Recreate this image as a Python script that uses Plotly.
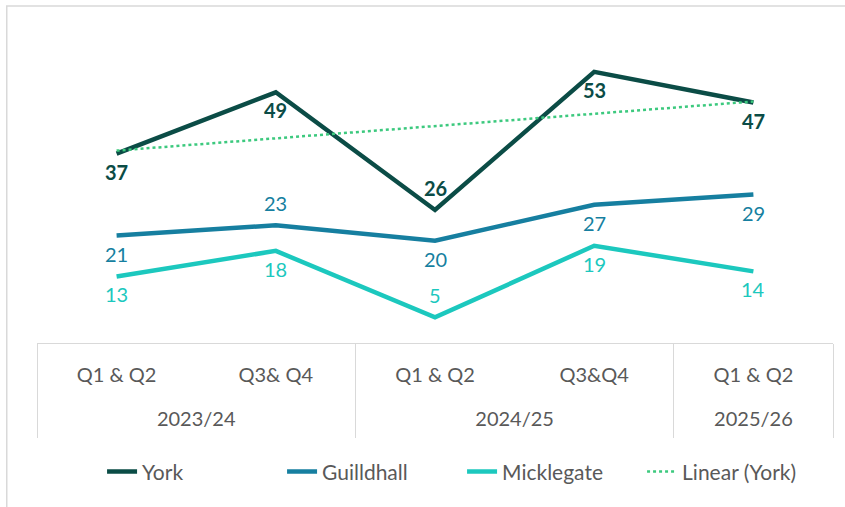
import numpy as np
import plotly.graph_objects as go

# ── Data ──────────────────────────────────────────────────────────────────────
quarters    = ["Q1 & Q2", "Q3& Q4", "Q1 & Q2", "Q3&Q4", "Q1 & Q2"]
years       = ["2023/24", "2024/25", "2025/26"]
year_center = [0.5, 2.5, 4]           # middle of each year's quarter group
year_bounds = [-0.5, 1.5, 3.5, 4.5]   # group dividers

york       = [37, 49, 26, 53, 47]
guildhall  = [21, 23, 20, 27, 29]
micklegate = [13, 18, 5, 19, 14]

# label placement per point (+1 above, -1 below), like the Excel data labels
york_lbl  = [-1, -1, 1, -1, -1]
guild_lbl = [-1, 1, -1, -1, -1]
mick_lbl  = [-1, -1, 1, -1, -1]

C_YORK  = "#0B4C46"
C_GUILD = "#167FA0"
C_MICK  = "#1CC8BE"
C_TREND = "#3CC97E"
C_GRID  = "#D9D9D9"
C_TEXT  = "#595959"
FONT    = "Lato, 'Open Sans', sans-serif"

idx = list(range(len(quarters)))
slope, icpt = np.polyfit(idx, york, 1)
trend = slope * np.array(idx) + icpt

fig = go.Figure()

series = [
    ("York", york, C_YORK, york_lbl, True),
    ("Guilldhall", guildhall, C_GUILD, guild_lbl, False),
    ("Micklegate", micklegate, C_MICK, mick_lbl, False),
]
for name, vals, color, pos, bold in series:
    fig.add_trace(go.Scatter(
        x=idx, y=vals, name=name, mode="lines",
        line=dict(color=color, width=4.5),
    ))

fig.add_trace(go.Scatter(
    x=idx, y=trend, name="Linear (York)", mode="lines",
    line=dict(color=C_TREND, width=2.5, dash="dot"),
))

# empty traces so the overlay axes get drawn
for ax in ("x2", "x3"):
    fig.add_trace(go.Scatter(x=[], y=[], xaxis=ax, showlegend=False,
                             hoverinfo="skip"))

# data labels
for name, vals, color, pos, bold in series:
    for xi, v in enumerate(vals):
        fig.add_annotation(
            x=xi, y=v,
            text=f"<b>{v}</b>" if bold else str(v),
            showarrow=False, yshift=22 if pos[xi] > 0 else -18,
            font=dict(family=FONT, size=20, color=color),
        )

XR = [-0.5, 4.5]
fig.update_layout(
    xaxis=dict(
        range=XR, tickvals=idx, ticktext=quarters,
        showline=True, linecolor=C_GRID, linewidth=1,
        showgrid=False, zeroline=False, ticks="",
        ticklabelstandoff=14,
        tickfont=dict(family=FONT, size=20, color=C_TEXT),
    ),
    xaxis2=dict(
        range=XR, overlaying="x", side="bottom", anchor="y",
        tickvals=year_center, ticktext=years,
        showline=False, showgrid=False, zeroline=False, ticks="",
        ticklabelstandoff=62,
        tickfont=dict(family=FONT, size=20, color=C_TEXT),
    ),
    xaxis3=dict(
        range=XR, overlaying="x", side="bottom", anchor="y",
        tickvals=year_bounds, showticklabels=False,
        showline=False, showgrid=False, zeroline=False,
        ticks="outside", ticklen=94, tickwidth=1, tickcolor=C_GRID,
    ),
    yaxis=dict(
        range=[0, 60], showgrid=False, zeroline=False,
        showticklabels=False, showline=False,
    ),
)

fig.add_shape(
    type="rect", xref="paper", yref="paper",
    x0=-0.038, x1=1.2, y0=-1.0, y1=1.098,
    line=dict(color=C_GRID, width=1.5), fillcolor="rgba(0,0,0,0)",
    layer="below",
)

fig.update_layout(
    width=845, height=507,
    margin=dict(l=37, r=12, t=36, b=164),
    plot_bgcolor="white", paper_bgcolor="white",
    font=dict(family=FONT, size=16, color=C_TEXT),
    showlegend=True,
    legend=dict(
        orientation="h", x=0.534, xanchor="center", y=-0.42, yanchor="middle",
        font=dict(family=FONT, size=21, color=C_TEXT),
        entrywidth=135, entrywidthmode="pixels",
    ),
)

fig.write_html("out.html", config={"displayModeBar": False},
               post_script="document.body.style.margin='0';")
